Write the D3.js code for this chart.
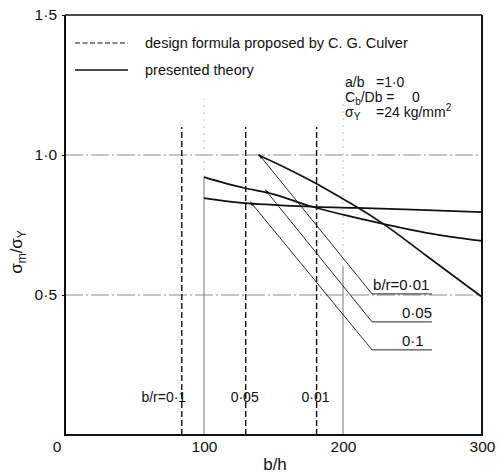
<!DOCTYPE html>
<html><head><meta charset="utf-8">
<script src="https://cdn.jsdelivr.net/npm/d3@7"></script>
<style>
html,body{margin:0;padding:0;background:#fff;}
text{font-family:"Liberation Sans",Arial,sans-serif;fill:#111;}
</style></head>
<body><svg id="c" width="501" height="474"></svg>
<script>
// ---- data ----
const xTicks = [100, 200, 300];
const yTicks = [0.5, 1.0, 1.5];
const xTickLabels = ["100", "200", "300"];
const yTickLabels = ["0·5", "1·0", "1·5"];
const gridY = [0.5, 1.0];
const gridX = [100, 200];

// presented theory curves (b/h, sigma_m/sigma_Y)
const curve001 = [[139,1.0],[160,0.951],[180,0.900],[200,0.843],[210,0.814],[229,0.754],[260,0.64],[300,0.493]];
const curve005 = [[100,0.921],[129,0.882],[147,0.864],[178,0.815],[200,0.787],[229,0.754],[260,0.722],[300,0.693]];
const curve01  = [[100,0.846],[129,0.828],[150,0.822],[180,0.815],[210,0.811],[250,0.805],[300,0.796]];
const curves = [curve001, curve005, curve01];

// design formula (C. G. Culver) vertical limits
const designX = [84, 130, 181];
const designLabels = ["b/r=0·1", "0·05", "0·01"];
const designTop = 1.1;

// leader lines: from curve to label
const leaderStart = [[141.7,0.989],[146,0.864],[135.3,0.821]];
const leaderEnd   = [[220.9,0.504],[220.9,0.404],[220.9,0.304]];
const leaderLabels = ["b/r=0·01", "0·05", "0·1"];
const underlineEnd = 264;

// ---- drawing ----
const svg = d3.select("#c");
const x = d3.scaleLinear([0,300],[65,482]);
const y = d3.scaleLinear([0,1.5],[435,15]);

// gridlines
svg.append("g").selectAll("line").data(gridY).join("line")
  .attr("x1", x(0)).attr("x2", x(300)).attr("y1", d=>y(d)).attr("y2", d=>y(d))
  .attr("stroke","#8a8a8a").attr("stroke-width",1).attr("stroke-dasharray","18,3,2,3");
const gridTopSolid = [0.921, 0.6];
svg.append("g").selectAll("line").data(gridX).join("line")
  .attr("x1", d=>x(d)).attr("x2", d=>x(d)).attr("y1", y(0)).attr("y2", (d,i)=>y(gridTopSolid[i]))
  .attr("stroke","#777").attr("stroke-width",1);
svg.append("g").selectAll("line").data(gridX).join("line")
  .attr("x1", d=>x(d)).attr("x2", d=>x(d)).attr("y1", (d,i)=>y(gridTopSolid[i])).attr("y2", y(1.2))
  .attr("stroke","#bbb").attr("stroke-width",1).attr("stroke-dasharray","2,5");

// design formula dashed lines
svg.append("g").selectAll("line").data(designX).join("line")
  .attr("x1", d=>x(d)).attr("x2", d=>x(d)).attr("y1", y(0)).attr("y2", y(designTop))
  .attr("stroke","#111").attr("stroke-width",1.4).attr("stroke-dasharray","6,3");
svg.append("g").selectAll("text").data(designX).join("text")
  .attr("x", (d,i)=> i===0 ? x(d)-18 : x(d)-1).attr("y", 402)
  .attr("text-anchor","middle").attr("font-size",14)
  .text((d,i)=>designLabels[i]);

// curves
const line = d3.line().x(d=>x(d[0])).y(d=>y(d[1])).curve(d3.curveMonotoneX);
svg.append("g").selectAll("path").data(curves).join("path")
  .attr("d", line).attr("fill","none").attr("stroke","#111").attr("stroke-width",1.7);

// arrow marker
svg.append("defs").append("marker").attr("id","arr")
  .attr("viewBox","0 0 10 10").attr("refX",0).attr("refY",5)
  .attr("markerWidth",8).attr("markerHeight",5).attr("markerUnits","userSpaceOnUse")
  .attr("orient","auto-start-reverse")
  .append("path").attr("d","M0,2 L10,5 L0,8 Z").attr("fill","#111");

// leader lines
svg.append("g").selectAll("path").data(leaderStart).join("path")
  .attr("d",(d,i)=>`M${x(d[0])},${y(d[1])} L${x(leaderEnd[i][0])},${y(leaderEnd[i][1])} L${x(underlineEnd)},${y(leaderEnd[i][1])}`)
  .attr("fill","none").attr("stroke","#111").attr("stroke-width",0.9)
  .attr("marker-start","url(#arr)");
svg.append("g").selectAll("text").data(leaderEnd).join("text")
  .attr("x",(d,i)=> i===0 ? x(d[0])+1 : 402)
  .attr("y", d=>y(d[1])-4)
  .attr("font-size",15)
  .text((d,i)=>leaderLabels[i]);

// axes
const gx = svg.append("g").attr("transform",`translate(0,${y(0)})`)
  .call(d3.axisBottom(x).tickValues(xTicks).tickSize(0).tickPadding(6).tickFormat((d,i)=>xTickLabels[i]));
gx.select(".domain").remove();
gx.selectAll("text").attr("font-size",15.5).attr("font-family","Liberation Sans, Arial, sans-serif").attr("fill","#111");
const gy = svg.append("g").attr("transform",`translate(${x(0)},0)`)
  .call(d3.axisLeft(y).tickValues(yTicks).tickSize(3).tickPadding(5).tickFormat((d,i)=>yTickLabels[i]));
gy.select(".domain").remove();
gy.selectAll("line").attr("stroke","#111");
gy.selectAll("text").attr("font-size",15.5).attr("font-family","Liberation Sans, Arial, sans-serif").attr("fill","#111");
svg.append("text").attr("x", x(0)-8).attr("y", y(0)+17).attr("text-anchor","middle").attr("font-size",15.5).text("0");

// frame
svg.append("path").attr("d",`M${x(0)},${y(1.5)} L${x(0)},${y(0)} L${x(300)},${y(0)} L${x(300)},${y(1.5)}`)
  .attr("fill","none").attr("stroke","#111").attr("stroke-width",2);
svg.append("line").attr("x1",x(0)).attr("x2",x(300)).attr("y1",y(1.5)).attr("y2",y(1.5))
  .attr("stroke","#111").attr("stroke-width",1.3);

// axis titles
svg.append("text").attr("x",275).attr("y",470).attr("text-anchor","middle").attr("font-size",17).text("b/h");
const yl = svg.append("text").attr("transform","translate(22,252) rotate(-90)").attr("text-anchor","middle").attr("font-size",17);
yl.append("tspan").text("σ");
yl.append("tspan").attr("font-size",12).attr("dy",4).text("m");
yl.append("tspan").attr("dy",-4).text("/σ");
yl.append("tspan").attr("font-size",12).attr("dy",4).text("Y");

// legend
svg.append("line").attr("x1",75).attr("x2",128).attr("y1",43).attr("y2",43)
  .attr("stroke","#111").attr("stroke-width",1.2).attr("stroke-dasharray","5,2.5");
svg.append("line").attr("x1",75).attr("x2",128).attr("y1",70).attr("y2",70)
  .attr("stroke","#111").attr("stroke-width",1.3);
svg.append("text").attr("x",145).attr("y",48).attr("font-size",14.5).text("design formula proposed by C. G. Culver");
svg.append("text").attr("x",145).attr("y",75).attr("font-size",14.5).text("presented theory");

// parameters
const p = svg.append("g").attr("font-size",14);
p.append("text").attr("x",345).attr("y",87).text("a/b");
p.append("text").attr("x",376).attr("y",87).text("=1·0");
const t2 = p.append("text").attr("x",345).attr("y",102);
t2.append("tspan").text("C");
t2.append("tspan").attr("font-size",10).attr("dy",3).text("b");
t2.append("tspan").attr("dy",-3).text("/Db =");
p.append("text").attr("x",412).attr("y",102).text("0");
const t3 = p.append("text").attr("x",345).attr("y",117);
t3.append("tspan").text("σ");
t3.append("tspan").attr("font-size",10).attr("dy",3).text("Y");
p.append("text").attr("x",376).attr("y",117).call(t=>{
  t.append("tspan").text("=24 kg/mm");
  t.append("tspan").attr("font-size",10).attr("dy",-6).text("2");
});
</script></body></html>
